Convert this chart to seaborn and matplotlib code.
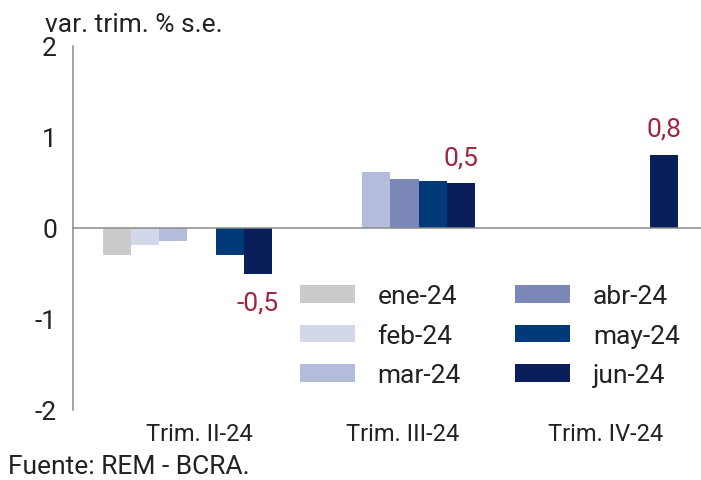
import numpy as np
import pandas as pd
import matplotlib
matplotlib.use('Agg')
import matplotlib.pyplot as plt
import seaborn as sns

# categorias y series (var. trim. % s.e.)
trimestres = ['Trim. II-24', 'Trim. III-24', 'Trim. IV-24']
meses = ['ene-24', 'feb-24', 'mar-24', 'abr-24', 'may-24', 'jun-24']
ene_24 = [-0.30, np.nan, np.nan]
feb_24 = [-0.19, np.nan, np.nan]
mar_24 = [-0.14, 0.62, np.nan]
abr_24 = [np.nan, 0.54, np.nan]
may_24 = [-0.30, 0.52, np.nan]
jun_24 = [-0.51, 0.49, 0.80]
colores = ['#cbcbcb', '#d2d7ea', '#b4bcdb', '#7a87b7', '#003a78', '#0a1e5a']

df = pd.DataFrame({'ene-24': ene_24, 'feb-24': feb_24, 'mar-24': mar_24,
                   'abr-24': abr_24, 'may-24': may_24, 'jun-24': jun_24},
                  index=trimestres)
df = df.reset_index().melt(id_vars='index', var_name='mes', value_name='valor')
df = df.rename(columns={'index': 'trimestre'})

sns.set_theme(style='white')
plt.rcParams['font.family'] = ['Roboto', 'DejaVu Sans']

fig = plt.figure(figsize=(7.01, 4.81), dpi=100)
ax = fig.add_axes([73/701, 1-411/481, 628/701, 364/481])

sns.barplot(data=df, x='trimestre', y='valor', hue='mes', order=trimestres,
            hue_order=meses, palette=colores, saturation=1, width=0.83,
            errorbar=None, linewidth=0, ax=ax)

ax.set_xlim(-0.564, 2.53)
ax.set_ylim(-2, 2)
ax.set_yticks([-2, -1, 0, 1, 2])
ax.set_yticklabels(['-2', '-1', '0', '1', '2'])
ax.set_xlabel('')
ax.set_ylabel('')

gris = '#8a8a8a'
texto = '#222222'
for s in ['top', 'right']:
    ax.spines[s].set_visible(False)
ax.spines['left'].set_color(gris)
ax.spines['left'].set_linewidth(1.1)
ax.spines['bottom'].set_position(('data', 0))
ax.spines['bottom'].set_color(gris)
ax.spines['bottom'].set_linewidth(1.1)

ax.tick_params(axis='y', direction='in', length=10, width=1, color=gris,
               labelsize=19, pad=11.5, labelcolor=texto)
# separadores entre trimestres
ax.set_xticks([0.5, 1.5])
ax.set_xticklabels([])
ax.tick_params(axis='x', direction='in', length=10, width=1, color=gris)

# etiquetas de trimestres al pie
sec = ax.secondary_xaxis('bottom')
sec.set_xticks(np.arange(len(trimestres)) + 0.06)
sec.set_xticklabels(trimestres)
sec.tick_params(length=0, labelsize=17, pad=8.5, labelcolor=texto)
sec.spines['bottom'].set_visible(False)

# valores de jun-24
n = len(meses)
w = 0.83 / n
for i, v in enumerate(jun_24):
    xpos = i - 0.83/2 + w*(n - 0.5)
    off = 19 if v > 0 else -20
    ax.annotate(f'{v:.1f}'.replace('.', ','), (xpos, v), xytext=(0, off),
                textcoords='offset points', ha='center', va='center',
                fontsize=19, color='#a3243f')

h, l = ax.get_legend_handles_labels()
ax.legend(h, l, ncol=2, loc='upper left', bbox_to_anchor=(0.361, 0.346),
          frameon=False, fontsize=19, handlelength=2.08, handleheight=0.65,
          handletextpad=0.87, columnspacing=2.05, labelspacing=0.59,
          borderpad=0, borderaxespad=0, labelcolor=texto)

fig.text(45/701, 1-25/481, 'var. trim. % s.e.', fontsize=19, va='center',
         ha='left', color=texto)
fig.text(8/701, 1-467/481, 'Fuente: REM - BCRA.', fontsize=19, va='center',
         ha='left', color=texto)

fig.savefig('out.png', dpi=100)
